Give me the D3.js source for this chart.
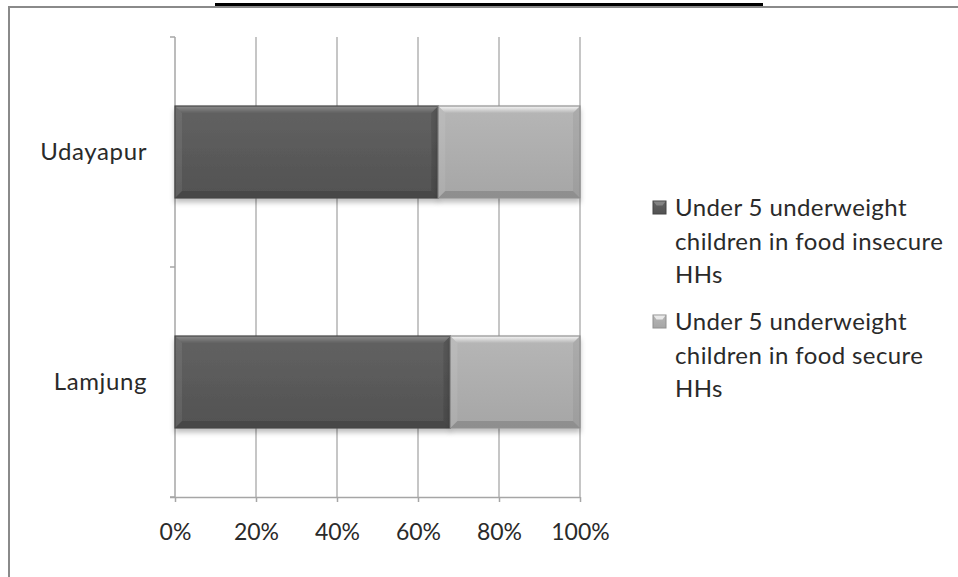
<!DOCTYPE html>
<html>
<head>
<meta charset="utf-8">
<script src="https://cdn.jsdelivr.net/npm/d3@7"></script>
<style>
  body { margin: 0; background: #fff; }
  text { font-family: Lato, "Open Sans", sans-serif; fill: #2a2a2a; }
</style>
</head>
<body>
<div id="chart"></div>
<script>
// data
const categories = ["Lamjung", "Udayapur"];
const insecureShare = [0.68, 0.65];
const secureShare = [0.32, 0.35];
const seriesNames = ["Under 5 underweight children in food insecure HHs",
                     "Under 5 underweight children in food secure HHs"];
const legendLines = [["Under 5 underweight", "children in food insecure", "HHs"],
                     ["Under 5 underweight", "children in food secure", "HHs"]];
const xTicks = [0, 0.2, 0.4, 0.6, 0.8, 1];

//chart size
const width = 958, height = 577;
const plot = { left: 175, right: 580, top: 37, bottom: 497 };

const svg = d3.select("#chart").append("svg")
    .attr("width", width)
    .attr("height", height);

const defs = svg.append("defs");

// bar colours (dark / light) with bevel gradients
const palette = [
    { top: "#626262", bottom: "#525252", hi: "#8c8c8c", edge: "#454545", right: 0.1 },
    { top: "#b6b6b6", bottom: "#a6a6a6", hi: "#f6f6f6", edge: "#909090", right: 0.05 }
];
palette.forEach((p, i) => {
    const g = defs.append("linearGradient").attr("id", "fill" + i)
        .attr("x1", 0).attr("y1", 0).attr("x2", 0).attr("y2", 1);
    g.append("stop").attr("offset", "0%").attr("stop-color", p.top);
    g.append("stop").attr("offset", "100%").attr("stop-color", p.bottom);
    const t = defs.append("linearGradient").attr("id", "bevel" + i)
        .attr("x1", 0).attr("y1", 0).attr("x2", 0).attr("y2", 1);
    t.append("stop").attr("offset", "0%").attr("stop-color", p.hi);
    t.append("stop").attr("offset", "100%").attr("stop-color", p.top);
});
const shadow = defs.append("filter").attr("id", "shadow")
    .attr("x", "-5%").attr("y", "-10%").attr("width", "110%").attr("height", "130%");
shadow.append("feDropShadow").attr("dx", 0).attr("dy", 4)
    .attr("stdDeviation", 2.5).attr("flood-color", "#000").attr("flood-opacity", 0.25);

// outer frame + cut-off title underline
svg.append("rect")
    .attr("x", 9).attr("y", 7).attr("width", 980).attr("height", 600)
    .attr("fill", "none").attr("stroke", "#8a8a8a").attr("stroke-width", 2);
svg.append("rect")
    .attr("x", 215).attr("y", 3).attr("width", 548).attr("height", 3)
    .attr("fill", "#000");

// scales
const x = d3.scaleLinear().domain([0, 1]).range([plot.left, plot.right]);
const y = d3.scaleBand()
    .domain(categories.slice().reverse())
    .range([plot.top, plot.bottom])
    .paddingInner(0.6)
    .paddingOuter(0.3);

const g = svg.append("g");

// vertical gridlines
g.append("g").selectAll("line")
    .data(xTicks.slice(1))
    .join("line")
    .attr("x1", d => x(d)).attr("x2", d => x(d))
    .attr("y1", plot.top).attr("y2", plot.bottom)
    .attr("stroke", "#b3b3b3").attr("stroke-width", 1.5);

// x axis
const xAxisG = g.append("g")
    .attr("transform", "translate(0," + plot.bottom + ")")
    .call(d3.axisBottom(x).tickValues(xTicks).tickFormat(d3.format(".0%"))
        .tickSize(5).tickPadding(22));
xAxisG.select(".domain").attr("d", "M" + (plot.left - 5) + ",0.5H" + plot.right)
    .attr("stroke", "#a6a6a6").attr("stroke-width", 1.5);
xAxisG.selectAll(".tick line").attr("stroke", "#a6a6a6").attr("stroke-width", 1.5);
xAxisG.selectAll(".tick text")
    .attr("font-size", 23).attr("font-family", "Lato").attr("fill", "#2a2a2a");

// y axis
const bandEdges = [plot.top, y.step() * 1 + plot.top, plot.bottom];
const yAxisG = g.append("g");
yAxisG.append("line")
    .attr("x1", plot.left).attr("x2", plot.left)
    .attr("y1", plot.top).attr("y2", plot.bottom)
    .attr("stroke", "#a6a6a6").attr("stroke-width", 1.5);
yAxisG.selectAll(".ytick")
    .data(bandEdges)
    .join("line")
    .attr("class", "ytick")
    .attr("x1", plot.left - 5).attr("x2", plot.left)
    .attr("y1", d => d).attr("y2", d => d)
    .attr("stroke", "#a6a6a6").attr("stroke-width", 1.5);
yAxisG.selectAll("text")
    .data(categories)
    .join("text")
    .attr("x", plot.left - 28)
    .attr("y", d => y(d) + y.bandwidth() / 2 + 8)
    .attr("text-anchor", "end")
    .attr("font-size", 24)
    .attr("letter-spacing", 0.6)
    .text(d => d);

// stacked bars
const table = categories.map((c, i) => ({ cat: c, insecure: insecureShare[i], secure: secureShare[i] }));
const stacked = d3.stack().keys(["insecure", "secure"])(table);

const bevel = 7;
stacked.forEach((layer, si) => {
    const layerG = g.append("g").attr("filter", "url(#shadow)");
    const seg = layerG.selectAll("g")
        .data(layer)
        .join("g");
    seg.append("rect")
        .attr("x", d => x(d[0]))
        .attr("y", d => y(d.data.cat))
        .attr("width", d => x(d[1]) - x(d[0]))
        .attr("height", y.bandwidth())
        .attr("fill", "url(#fill" + si + ")");
    // top bevel
    seg.append("path")
        .attr("d", d => {
            const x0 = x(d[0]), x1 = x(d[1]), y0 = y(d.data.cat);
            return `M${x0},${y0}H${x1}L${x1 - bevel},${y0 + bevel}H${x0 + bevel}Z`;
        })
        .attr("fill", "url(#bevel" + si + ")");
    // left bevel
    seg.append("path")
        .attr("d", d => {
            const x0 = x(d[0]), y0 = y(d.data.cat), y1 = y0 + y.bandwidth();
            return `M${x0},${y0}L${x0 + bevel},${y0 + bevel}V${y1 - bevel}L${x0},${y1}Z`;
        })
        .attr("fill", "#fff").attr("fill-opacity", 0.08);
    // right bevel
    seg.append("path")
        .attr("d", d => {
            const x1 = x(d[1]), y0 = y(d.data.cat), y1 = y0 + y.bandwidth();
            return `M${x1},${y0}L${x1 - bevel},${y0 + bevel}V${y1 - bevel}L${x1},${y1}Z`;
        })
        .attr("fill", "#000").attr("fill-opacity", palette[si].right);
    // bottom bevel
    seg.append("path")
        .attr("d", d => {
            const x0 = x(d[0]), x1 = x(d[1]), y1 = y(d.data.cat) + y.bandwidth();
            return `M${x0},${y1}H${x1}L${x1 - bevel},${y1 - bevel}H${x0 + bevel}Z`;
        })
        .attr("fill", "#000").attr("fill-opacity", 0.14);
    seg.append("rect")
        .attr("x", d => x(d[0]))
        .attr("y", d => y(d.data.cat))
        .attr("width", d => x(d[1]) - x(d[0]))
        .attr("height", y.bandwidth())
        .attr("fill", "none")
        .attr("stroke", palette[si].edge).attr("stroke-width", 1.2);
});

// legend
const legend = svg.append("g").selectAll("g")
    .data(seriesNames)
    .join("g")
    .attr("transform", (d, i) => "translate(653," + (201 + i * 114) + ")");
legend.append("rect")
    .attr("width", 13).attr("height", 13)
    .attr("fill", (d, i) => "url(#fill" + i + ")")
    .attr("stroke", (d, i) => palette[i].edge).attr("stroke-width", 1);
legend.append("path")
    .attr("d", "M0.5,0.5H12.5L9.5,4.5H3.5Z")
    .attr("fill", (d, i) => palette[i].hi).attr("opacity", 0.8);
legend.append("text")
    .attr("font-size", 24)
    .attr("letter-spacing", 0.4)
    .selectAll("tspan")
    .data((d, i) => legendLines[i])
    .join("tspan")
    .attr("x", 22)
    .attr("y", (d, j) => 15 + j * 33.5)
    .text(d => d);
</script>
</body>
</html>
